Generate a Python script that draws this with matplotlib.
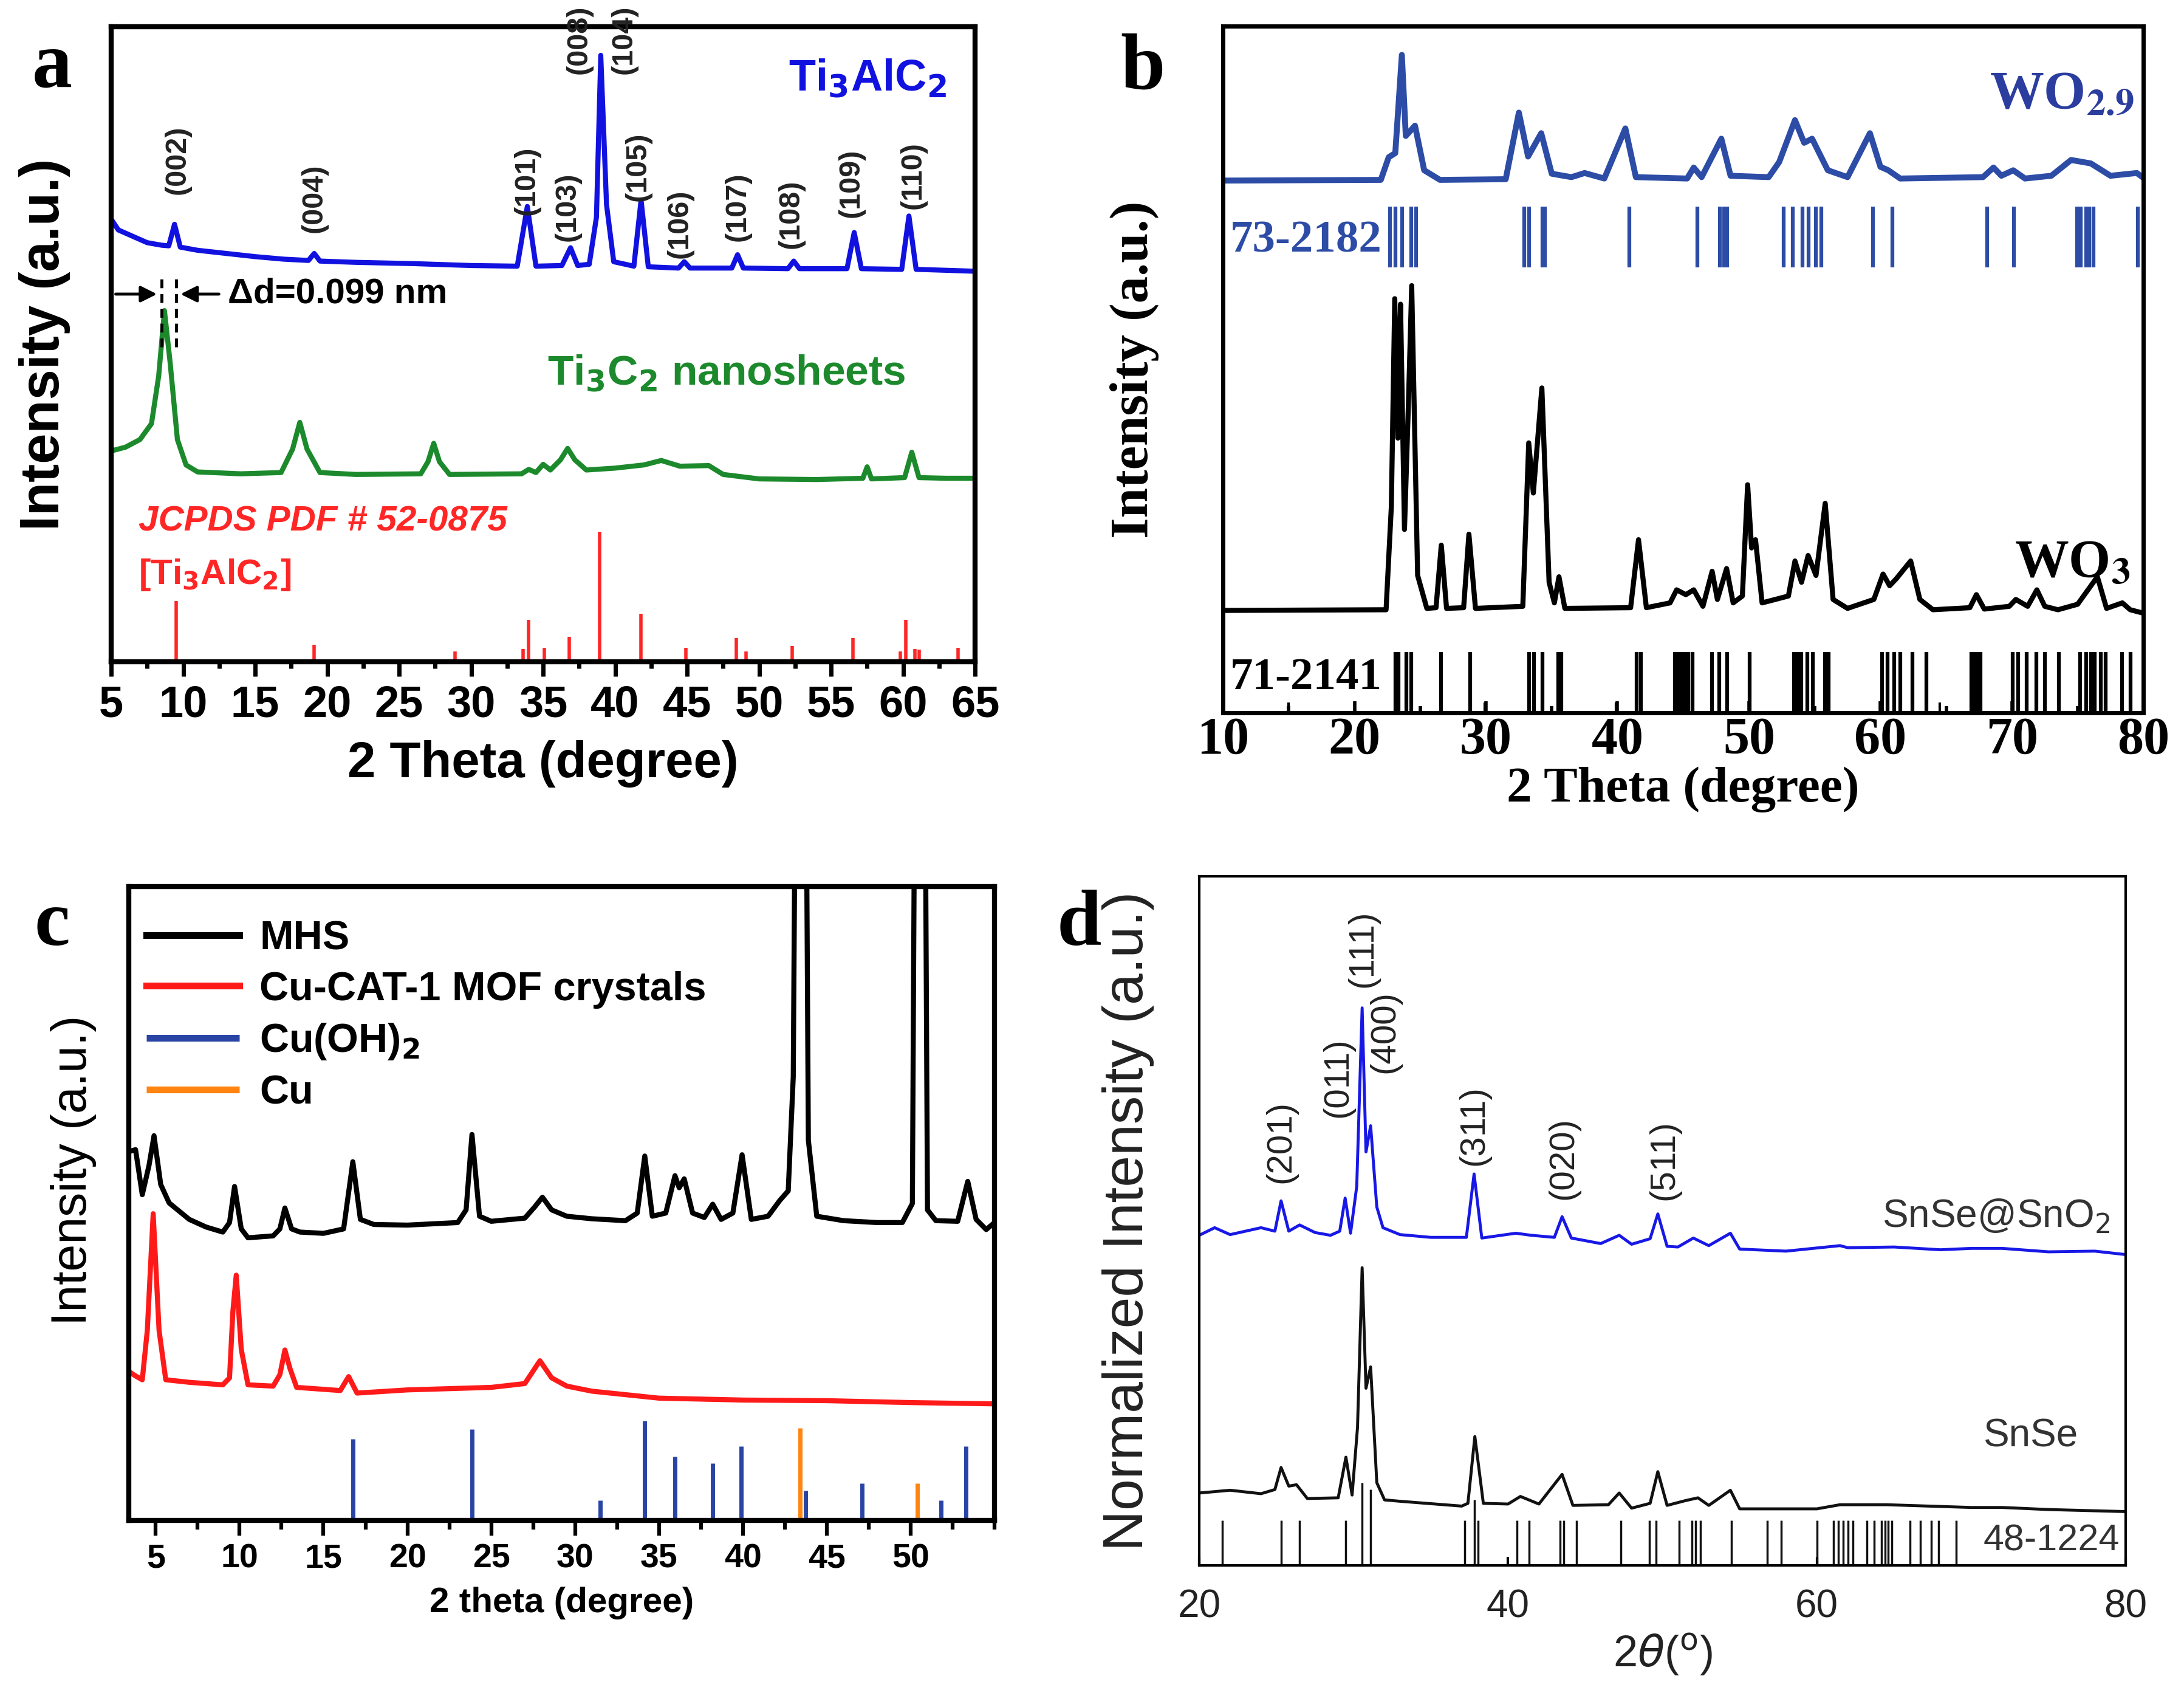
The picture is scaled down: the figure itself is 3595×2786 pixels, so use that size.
import numpy as np
import matplotlib.pyplot as plt
from matplotlib.ticker import MultipleLocator

SANS = 'Liberation Sans'
SERIF = 'Liberation Serif'

# ---------------- panel a : Ti3AlC2 / Ti3C2 ----------------
a_x_ti3alc2 = [5.0, 5.5, 6.5, 7.5, 8.5, 9.0, 9.4, 9.8, 11, 13, 15, 17, 18.7, 19.1, 19.5, 22, 26, 30,
               33.2, 33.9, 34.5, 36.3, 36.9, 37.4, 38.2, 38.7, 39.0, 39.4, 39.9, 41.3, 41.8, 42.3,
               44.4, 44.8, 45.2, 48.1, 48.5, 48.9, 52.0, 52.4, 52.8, 56.1, 56.6, 57.1, 59.9, 60.4,
               60.9, 65]
a_y_ti3alc2 = [69.7, 68.0, 67.0, 66.0, 65.6, 65.5, 68.9, 65.3, 64.8, 64.3, 63.8, 63.4, 63.2, 64.3,
               63.1, 62.9, 62.7, 62.4, 62.3, 71.7, 62.3, 62.4, 65.2, 62.4, 62.6, 70.0, 95.5, 72.0,
               63.0, 62.3, 72.7, 62.2, 62.0, 63.0, 62.0, 62.0, 64.1, 62.0, 61.9, 63.1, 61.9, 61.9,
               67.6, 61.9, 61.8, 70.2, 61.8, 61.5]
a_x_ti3c2 = [5.0, 6.0, 7.0, 7.8, 8.3, 8.7, 9.1, 9.6, 10.2, 11, 14, 16.8, 17.6, 18.1, 18.6, 19.5, 22,
             26.5, 27.0, 27.4, 27.8, 28.5, 33.5, 34.0, 34.5, 35.0, 35.5, 36.2, 36.7, 37.2, 38.0,
             40, 42, 43.2, 44.5, 46.5, 47.5, 50, 54, 57.2, 57.5, 57.8, 60.1, 60.6, 61.1, 63, 65]
a_y_ti3c2 = [33.2, 33.8, 35.0, 37.5, 45.0, 55.3, 47.0, 35.0, 31.0, 29.9, 29.6, 29.8, 33.5, 37.7, 33.5,
             29.8, 29.5, 29.6, 31.5, 34.4, 31.5, 29.5, 29.6, 30.3, 29.8, 31.1, 30.2, 31.8, 33.6,
             31.8, 30.2, 30.5, 31.0, 31.7, 30.8, 30.9, 29.5, 28.8, 28.7, 28.9, 30.7, 28.8, 29.0,
             33.0, 29.0, 28.9, 28.9]
a_ref_pos = [9.5, 19.1, 28.9, 33.6, 34.0, 35.1, 36.8, 38.9, 41.8, 44.9, 48.4, 49.1, 52.3, 56.5,
             59.8, 60.2, 60.8, 61.1, 63.8]
a_ref_int = [9.6, 2.7, 1.6, 2.0, 6.6, 2.2, 3.9, 20.5, 7.6, 2.2, 3.7, 1.6, 2.5, 3.7, 1.6, 6.6, 2.0,
             1.9, 2.2]
a_hkl = ['(002)', '(004)', '(101)', '(103)', '(008)', '(104)', '(105)', '(106)', '(107)', '(108)',
         '(109)', '(110)']
a_hkl_x = [9.6, 19.1, 33.85, 36.7, 37.5, 40.6, 41.6, 44.5, 48.5, 52.2, 56.4, 60.7]
a_hkl_y = [79, 73, 75.8, 71.7, 98, 98, 78, 69, 71.7, 70.5, 75.4, 76.6]
a_ticks = list(range(5, 66, 5))

# ---------------- panel b : WO2.9 / WO3 ----------------
b_x_wo29 = [10, 22.0, 22.6, 23.1, 23.6, 23.9, 24.6, 25.3, 26.5, 31.5, 32.5, 33.2, 34.2, 35.0, 36.5,
            37.5, 39.0, 40.6, 41.4, 45.3, 45.8, 46.4, 47.9, 48.6, 51.5, 52.3, 53.5, 54.2, 54.8,
            56.0, 57.5, 59.2, 60.0, 60.6, 61.5, 67.8, 68.6, 69.2, 70.1, 71, 73.0, 74.5, 76.0,
            77.5, 79.5, 80]
b_y_wo29 = [77.5, 77.6, 80.9, 81.5, 95.8, 84.0, 85.5, 79.0, 77.6, 77.7, 87.4, 81.0, 84.4, 78.5,
            78.0, 78.6, 77.8, 85.1, 78.0, 77.8, 79.4, 78.0, 83.6, 78.2, 78.0, 80.2, 86.3, 83.0,
            83.6, 79.0, 78.0, 84.4, 79.5, 79.0, 77.8, 78.0, 79.4, 78.2, 79.0, 77.8, 78.2, 80.5,
            80.0, 78.2, 78.6, 77.9]
b_x_wo3 = [10, 22.4, 22.8, 23.06, 23.3, 23.5, 23.8, 24.1, 24.35, 24.8, 25.5, 26.2, 26.6, 27.0, 28.3,
           28.7, 29.2, 32.8, 33.25, 33.6, 34.25, 34.8, 35.2, 35.55, 36.0, 41.0, 41.6, 42.2, 44.0,
           44.5, 45.2, 45.8, 46.5, 47.2, 47.6, 48.3, 48.8, 49.5, 49.9, 50.2, 50.5, 51.0, 53.0,
           53.5, 54.0, 54.5, 55.1, 55.8, 56.4, 57.5, 59.5, 60.2, 60.7, 61.2, 62.3, 63.0, 64.0,
           66.8, 67.3, 67.9, 69.8, 70.3, 71.2, 71.9, 72.5, 73.5, 75.0, 76.5, 77.2, 78.4, 79.0, 80]
b_y_wo3 = [14.9, 15.0, 30.0, 60.3, 40.0, 59.5, 26.7, 45.0, 62.2, 20.0, 15.2, 15.3, 24.4, 15.2,
           15.3, 26.0, 15.2, 15.5, 39.3, 32.0, 47.3, 19.0, 16.0, 19.8, 15.2, 15.3, 25.2, 15.3,
           16.0, 17.9, 17.2, 17.9, 15.5, 20.6, 16.5, 21.0, 16.0, 17.0, 33.2, 24.0, 25.2, 16.0,
           17.0, 22.1, 19.0, 22.9, 20.0, 30.5, 16.5, 15.2, 16.5, 20.2, 18.5, 19.5, 22.1, 16.5,
           15.0, 15.3, 17.2, 15.1, 15.5, 16.5, 15.5, 17.9, 15.5, 15.0, 15.8, 19.8, 15.2, 16.0,
           15.0, 14.5]
b_ref_wo29 = [22.68, 23.12, 23.61, 24.32, 24.70, 32.92, 33.30, 34.28, 34.50, 40.92, 46.09, 47.78,
              48.11, 48.32, 52.62, 53.33, 54.09, 54.53, 55.07, 55.51, 59.43, 60.90, 68.14, 70.15,
              74.94, 75.22, 75.65, 75.87, 76.19, 79.57]
b_ref_wo3 = [23.12, 23.34, 23.94, 24.32, 26.60, 28.78, 33.30, 33.63, 34.28, 35.48, 35.75, 41.46,
             41.79, 44.35, 44.62, 44.89, 45.11, 45.38, 45.71, 47.18, 47.72, 48.32, 50.07, 53.44,
             53.71, 53.98, 54.42, 54.86, 55.78, 56.05, 60.14, 60.52, 61.06, 61.50, 62.42, 63.51,
             66.94, 67.16, 67.38, 67.59, 70.04, 70.48, 71.13, 71.84, 72.49, 73.58, 75.21, 75.65,
             76.03, 76.30, 76.74, 77.12, 78.37, 79.03]
b_ref_wo3_weak = [15.0, 20.0, 29.9, 39.9, 64.5]
b_ticks = list(range(10, 81, 10))

# ---------------- panel c : MHS / Cu-CAT-1 ----------------
c_x_mhs = [3.4, 3.8, 4.2, 4.6, 4.9, 5.3, 5.8, 7.0, 8.0, 9.0, 9.4, 9.7, 10.1, 10.5, 12.0, 12.4, 12.7,
           13.1, 13.6, 15.0, 16.2, 16.75, 17.2, 18, 20, 23, 23.5, 23.85, 24.3, 25, 27, 27.6, 28.05,
           28.6, 29.5, 31, 33, 33.7, 34.15, 34.6, 35.4, 35.95, 36.2, 36.5, 37.0, 37.7, 38.2, 38.7,
           39.4, 39.95, 40.5, 41.5, 42.2, 42.7, 43.0, 43.2, 43.7, 43.9, 44.4, 46, 48, 49.5, 50.1,
           50.3, 50.8, 51.0, 51.5, 52.8, 53.4, 53.9, 54.5, 55]
c_y_mhs = [58.2, 58.5, 51.4, 56.0, 60.7, 53.0, 50.1, 47.5, 46.3, 45.5, 47.0, 52.7, 46.0, 44.6, 44.9,
           46.0, 49.3, 46.0, 45.5, 45.3, 46.0, 56.6, 47.5, 46.7, 46.6, 47.0, 49.0, 60.9, 48.0, 47.2,
           47.7, 49.5, 51.0, 49.0, 48.0, 47.6, 47.3, 48.5, 57.5, 48.0, 48.5, 54.4, 52.5, 53.9,
           48.5, 47.8, 49.9, 47.5, 48.5, 57.7, 47.5, 48.0, 50.5, 52.0, 70.0, 150, 150, 60.0, 48.0,
           47.3, 47.0, 47.0, 50.0, 150, 150, 49.0, 47.3, 47.2, 53.5, 47.5, 45.9, 47.0]
c_x_cat = [3.4, 3.8, 4.2, 4.5, 4.85, 5.2, 5.6, 7, 9.0, 9.4, 9.6, 9.8, 10.1, 10.5, 12.0, 12.4, 12.7,
           13.0, 13.4, 16.0, 16.5, 17.0, 20, 25, 27.0, 27.9, 28.6, 29.5, 31, 35, 40, 45, 50, 55]
c_y_cat = [23.5, 22.8, 22.2, 30.0, 48.4, 30.0, 22.2, 21.8, 21.4, 22.5, 33.0, 38.7, 27.0, 21.4, 21.2,
           23.0, 26.9, 24.0, 21.0, 20.5, 22.7, 20.1, 20.6, 21.0, 21.6, 25.2, 22.5, 21.2, 20.4,
           19.3, 19.0, 18.9, 18.6, 18.4]
c_cuoh2_pos = [16.75, 23.85, 31.5, 34.15, 35.95, 38.2, 39.9, 43.75, 47.1, 51.8, 53.3]
c_cuoh2_int = [12.9, 14.4, 3.2, 15.7, 10.1, 9.0, 11.7, 4.7, 5.9, 3.2, 11.7]
c_cu_pos = [43.4, 50.4]
c_cu_int = [14.6, 5.9]
c_labels = ['MHS', 'Cu-CAT-1 MOF crystals', 'Cu(OH)$_\\mathbf{2}$', 'Cu']
c_ticks = list(range(5, 55, 5))

# ---------------- panel d : SnSe@SnO2 / SnSe ----------------
d_x_sno2 = [20, 21, 22, 23, 24, 24.9, 25.3, 25.8, 26.5, 27.5, 28.5, 29.1, 29.45, 29.8, 30.2, 30.55,
            30.8, 31.1, 31.5, 31.9, 33, 35, 37.3, 37.8, 38.3, 40.5, 41.5, 43.0, 43.5, 44.1, 46,
            47.2, 48.0, 49.2, 49.7, 50.3, 51, 52.0, 53.0, 54.4, 55.0, 58, 61.5, 62, 65, 68, 70,
            72, 75, 78, 80]
d_y_sno2 = [47.9, 49.0, 48.0, 48.5, 49.0, 48.5, 52.9, 48.5, 49.4, 48.3, 47.9, 48.5, 53.3, 48.2,
            55.0, 80.9, 60.0, 63.8, 52.0, 49.0, 48.0, 47.6, 47.6, 56.8, 47.5, 48.2, 47.9, 47.6,
            50.6, 47.5, 46.7, 47.9, 46.6, 47.4, 51.0, 46.3, 46.2, 47.5, 46.4, 48.2, 45.9, 45.6,
            46.4, 46.1, 46.2, 45.8, 46.0, 46.0, 45.5, 45.6, 45.1]
d_x_snse = [20, 22, 24, 24.9, 25.3, 25.8, 26.3, 27, 29.0, 29.5, 29.9, 30.25, 30.55, 30.8, 31.1,
            31.5, 32, 33, 37, 37.4, 37.85, 38.4, 40, 40.8, 42, 43.5, 44.2, 46.5, 47.2, 48.0, 49.2,
            49.7, 50.3, 51.5, 52.3, 53, 54.4, 55.0, 60, 61.5, 64.5, 70, 72, 75, 80]
d_y_snse = [10.5, 10.9, 10.4, 11.0, 14.2, 11.5, 11.7, 9.7, 9.8, 15.7, 10.2, 20.0, 43.2, 25.7, 28.8,
            12.0, 9.5, 9.3, 8.6, 9.0, 18.7, 9.0, 8.9, 10.0, 8.9, 13.2, 8.7, 8.8, 10.5, 8.3, 9.0,
            13.6, 8.7, 9.4, 9.8, 8.7, 10.9, 8.2, 8.2, 8.8, 8.8, 8.4, 8.4, 8.1, 7.8]
d_ref_pos = [21.48, 25.32, 26.48, 29.48, 30.55, 31.10, 37.21, 37.81, 38.04, 40.58, 41.37, 43.36,
             43.59, 44.42, 47.29, 49.14, 49.60, 51.08, 51.92, 52.15, 52.47, 54.46, 56.77, 57.70,
             60.01, 61.07, 61.40, 61.72, 62.00, 62.32, 63.25, 63.71, 64.17, 64.40, 64.63, 64.87,
             66.02, 66.72, 67.41, 67.87, 69.03]
d_ref_int = [6.5, 6.5, 6.5, 6.5, 12.0, 11.0, 6.5, 9.5, 6.5, 6.5, 6.5, 6.5, 6.5, 6.5, 6.5, 6.5,
             6.5, 6.5, 6.5, 6.5, 6.5, 6.5, 6.5, 6.5, 6.5, 6.5, 6.5, 6.5, 6.5, 6.5, 6.5, 6.5, 6.5,
             6.5, 6.5, 6.5, 6.5, 6.5, 6.5, 6.5, 6.5]
d_hkl = ['(201)', '(011)', '(111)', '(400)', '(311)', '(020)', '(511)']
d_hkl_x = [25.3, 29.0, 30.6, 32.0, 37.8, 43.6, 50.1]
d_hkl_y = [61.5, 70.8, 89.5, 77.4, 63.8, 59.1, 58.8]
d_ticks = [20, 40, 60, 80]

fig = plt.figure(figsize=(35.95, 27.86), dpi=100)


def frame(ax, lw):
    for s in ax.spines.values():
        s.set_linewidth(lw)
    ax.set_yticks([])


# ---------- a ----------
ax = fig.add_axes([0.0509, 0.6091, 0.3956, 0.3751])
frame(ax, 6)
blue_a = '#1212e0'
green_a = '#1c8a2c'
red_a = '#ff2626'
ax.plot(a_x_ti3alc2, a_y_ti3alc2, color=blue_a, lw=6)
ax.plot(a_x_ti3c2, a_y_ti3c2, color=green_a, lw=6)
ax.vlines(a_ref_pos, 0, a_ref_int, color=red_a, lw=4)
ax.set_xlim(5, 65)
ax.set_ylim(0, 100)
ax.set_xticks(a_ticks)
ax.xaxis.set_minor_locator(MultipleLocator(2.5))
ax.tick_params(axis='x', which='major', direction='out', length=17, width=5, pad=10, labelsize=52)
ax.tick_params(axis='x', which='minor', direction='out', length=8, width=5)
plt.setp(ax.get_xticklabels(), family=SANS, weight='bold')
for lab, x, y in zip(a_hkl, a_hkl_x, a_hkl_y):
    ax.text(x, y, lab, rotation=90, ha='center', va='center', fontsize=35, weight='bold',
            family=SANS, color='#222222', clip_on=False)
ax.text(63.0, 90.0, 'Ti$_\\mathbf{3}$AlC$_\\mathbf{2}$', ha='right', va='baseline', fontsize=52,
        weight='bold', family=SANS, color=blue_a)
ax.text(35.3, 43.6, 'Ti$_\\mathbf{3}$C$_\\mathbf{2}$ nanosheets', ha='left', va='baseline',
        fontsize=50, weight='bold', family=SANS, color=green_a)
ax.text(6.9, 20.6, 'JCPDS PDF # 52-0875', ha='left', va='baseline', fontsize=42, style='italic',
        weight='bold', family=SANS, color=red_a)
ax.text(6.9, 12.3, '[Ti$_\\mathbf{3}$AlC$_\\mathbf{2}$]', ha='left', va='baseline', fontsize=42,
        weight='bold', family=SANS, color=red_a)
ax.plot([8.5, 8.5], [49.6, 61], color='k', lw=3.5, ls=(0, (3, 2)))
ax.plot([9.5, 9.5], [49.6, 61], color='k', lw=3.5, ls=(0, (3, 2)))
ax.annotate('', xy=(8.3, 57.9), xytext=(5.2, 57.9),
            arrowprops=dict(arrowstyle='-|>', lw=3.5, color='k', mutation_scale=40))
ax.annotate('', xy=(9.7, 57.9), xytext=(12.6, 57.9),
            arrowprops=dict(arrowstyle='-|>', lw=3.5, color='k', mutation_scale=40))
ax.text(13.1, 57.9, '\u0394d=0.099 nm', ha='left', va='center', fontsize=42, weight='bold',
        family=SANS)
ax.set_xlabel('2 Theta (degree)', fontsize=60, weight='bold', family=SANS)
ax.xaxis.set_label_coords(0.5, -0.161)
ax.xaxis.label.set_va('center')
ax.set_ylabel('Intensity (a.u.)', fontsize=65, weight='bold', family=SANS)
ax.yaxis.set_label_coords(-0.077, 0.5)
ax.yaxis.label.set_va('center')

# ---------- b ----------
ax = fig.add_axes([0.5600, 0.5790, 0.4214, 0.4056])
frame(ax, 5)
blue_b = '#2c4ca6'
ax.plot(b_x_wo29, b_y_wo29, color=blue_b, lw=7)
ax.plot(b_x_wo3, b_y_wo3, color='k', lw=6)
ax.vlines(b_ref_wo29, 64.9, 73.7, color=blue_b, lw=4.5)
ax.vlines(b_ref_wo3, 0, 8.8, color='k', lw=4.5)
ax.vlines(b_ref_wo3_weak, 0, 1.5, color='k', lw=3)
ax.set_xlim(10, 80)
ax.set_ylim(0, 100)
ax.set_xticks(b_ticks)
ax.xaxis.set_minor_locator(MultipleLocator(5))
ax.tick_params(axis='x', which='major', direction='in', length=14, width=4, pad=5, labelsize=62)
ax.tick_params(axis='x', which='minor', direction='in', length=8, width=4)
plt.setp(ax.get_xticklabels(), family=SERIF, weight='bold')
ax.text(10.55, 68.7, '73-2182', ha='left', va='center', fontsize=54, weight='bold', family=SERIF,
        color=blue_b)
ax.text(10.55, 5.0, '71-2141', ha='left', va='center', fontsize=54, weight='bold', family=SERIF)
ax.text(79.3, 88.0, 'WO$_{\\mathbf{2.9}}$', ha='right', va='baseline', fontsize=64, weight='bold',
        family=SERIF, color='#2b3d9e', math_fontfamily='stix')
ax.text(79.0, 19.8, 'WO$_{\\mathbf{3}}$', ha='right', va='baseline', fontsize=64, weight='bold',
        family=SERIF, math_fontfamily='stix')
ax.set_xlabel('2 Theta (degree)', fontsize=60, weight='bold', family=SERIF)
ax.xaxis.set_label_coords(0.5, -0.112)
ax.xaxis.label.set_va('center')
ax.set_ylabel('Intensity (a.u.)', fontsize=64, weight='bold', family=SERIF)
ax.yaxis.set_label_coords(-0.096, 0.5)
ax.yaxis.label.set_va('center')

# ---------- c ----------
ax = fig.add_axes([0.0590, 0.1019, 0.3964, 0.3744])
frame(ax, 6)
ax.plot(c_x_mhs, c_y_mhs, color='k', lw=6, label=c_labels[0])
ax.plot(c_x_cat, c_y_cat, color='#ff1a1a', lw=6, label=c_labels[1])
ax.vlines(c_cuoh2_pos, 0, c_cuoh2_int, color='#2a44a6', lw=5, label=c_labels[2])
ax.vlines(c_cu_pos, 0, c_cu_int, color='#ff8410', lw=5, label=c_labels[3])
ax.set_xlim(3.4, 55)
ax.set_ylim(0, 100)
ax.set_xticks(c_ticks)
ax.xaxis.set_minor_locator(MultipleLocator(2.5))
ax.tick_params(axis='x', which='major', direction='out', length=18, width=4.5, pad=9, labelsize=40)
ax.tick_params(axis='x', which='minor', direction='out', length=11, width=4.5)
plt.setp(ax.get_xticklabels(), family=SANS, weight='bold')
leg = ax.legend(loc='upper left', bbox_to_anchor=(0.02, 0.947), frameon=False,
                prop=dict(family=SANS, weight='bold', size=48), handlelength=2.3,
                handletextpad=0.5, labelspacing=0.32, borderaxespad=0, borderpad=0)
for h in leg.legend_handles:
    h.set_linewidth(8)
ax.set_xlabel('2 theta (degree)', fontsize=42, weight='bold', family=SANS)
ax.xaxis.set_label_coords(0.5, -0.130)
ax.xaxis.label.set_va('center')
ax.set_ylabel('Intensity (a.u.)', fontsize=58, family=SANS)
ax.yaxis.set_label_coords(-0.064, 0.552)
ax.yaxis.label.set_va('center')

# ---------- d ----------
ax = fig.add_axes([0.5491, 0.0754, 0.4242, 0.4070])
frame(ax, 3)
ax.plot(d_x_sno2, d_y_sno2, color='#1818e6', lw=3.5)
ax.plot(d_x_snse, d_y_snse, color='#111111', lw=3.5)
ax.vlines(d_ref_pos, 0, d_ref_int, color='#111111', lw=2.5)
ax.set_xlim(20, 80)
ax.set_ylim(0, 100)
ax.set_xticks(d_ticks)
ax.tick_params(axis='x', which='major', direction='in', length=10, width=3, pad=28, labelsize=46)
plt.setp(ax.get_xticklabels(), family=SANS, color='#222222')
for lab, x, y in zip(d_hkl, d_hkl_x, d_hkl_y):
    ax.text(x, y, lab, rotation=90, ha='center', va='center', fontsize=42, family=SANS,
            color='#222222')
ax.text(79.0, 50.6, 'SnSe@SnO$_2$', ha='right', va='center', fontsize=46, family=SANS,
        color='#333333')
ax.text(76.9, 18.7, 'SnSe', ha='right', va='center', fontsize=46, family=SANS, color='#333333')
ax.text(79.6, 3.5, '48-1224', ha='right', va='center', fontsize=44, family=SANS, color='#333333')
ax.set_xlabel('2$\\theta$($^{\\rm o}$)', fontsize=52, family=SANS, color='#222222')
ax.xaxis.set_label_coords(0.5, -0.13)
ax.xaxis.label.set_va('center')
ax.set_ylabel('Normalized Intensity (a.u.)', fontsize=67, family=SANS, color='#222222')
ax.yaxis.set_label_coords(-0.077, 0.5)
ax.yaxis.label.set_va('center')

# panel letters
for letter, x, y in [('a', 0.0147, 0.949), ('b', 0.513, 0.9476), ('c', 0.0156, 0.4418),
                     ('d', 0.484, 0.4418)]:
    fig.text(x, y, letter, ha='left', va='baseline', fontsize=95, weight='bold', family=SERIF)

fig.savefig('out.png', dpi=100, facecolor='white')
